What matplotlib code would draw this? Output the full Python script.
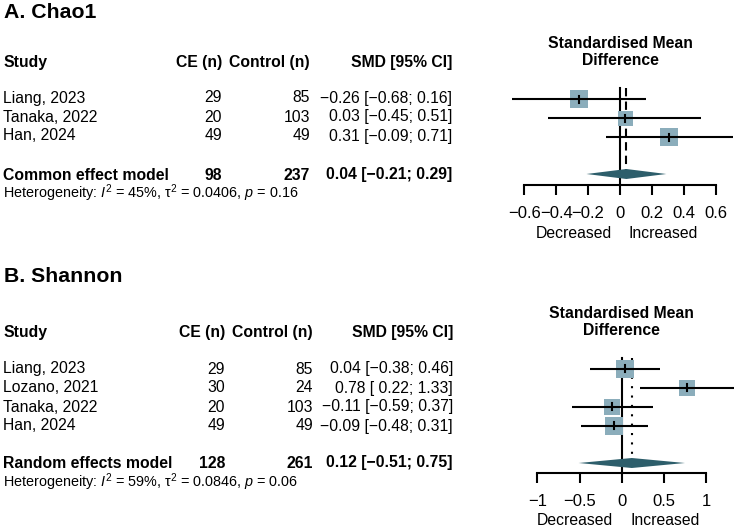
import numpy as np
import matplotlib
matplotlib.use("Agg")
import matplotlib.pyplot as plt
from matplotlib.patches import Polygon
from matplotlib.transforms import offset_copy

plt.rcParams['font.family'] = ['Liberation Sans', 'DejaVu Sans']
plt.rcParams['mathtext.fontset'] = 'custom'
plt.rcParams['mathtext.rm'] = 'Liberation Sans'
plt.rcParams['mathtext.it'] = 'Liberation Sans:italic'

# ---- data ----
chao_studies = ["Liang, 2023", "Tanaka, 2022", "Han, 2024"]
chao_ce = [29, 20, 49]
chao_ctrl = [85, 103, 49]
chao_smd = [-0.26, 0.03, 0.31]
chao_lo = [-0.68, -0.45, -0.09]
chao_hi = [0.16, 0.51, 0.71]
chao_pool = [0.04, -0.21, 0.29]
chao_model = "Common effect model"
chao_het = "Heterogeneity: $I^2$ = 45%, τ$^2$ = 0.0406, $p$ = 0.16"
chao_ticks = [-0.6, -0.4, -0.2, 0, 0.2, 0.4, 0.6]

shan_studies = ["Liang, 2023", "Lozano, 2021", "Tanaka, 2022", "Han, 2024"]
shan_ce = [29, 30, 20, 49]
shan_ctrl = [85, 24, 103, 49]
shan_smd = [0.04, 0.78, -0.11, -0.09]
shan_lo = [-0.38, 0.22, -0.59, -0.48]
shan_hi = [0.46, 1.33, 0.37, 0.31]
shan_pool = [0.12, -0.51, 0.75]
shan_tau2 = 0.0846
shan_model = "Random effects model"
shan_het = "Heterogeneity: $I^2$ = 59%, τ$^2$ = 0.0846, $p$ = 0.06"
shan_ticks = [-1, -0.5, 0, 0.5, 1]

W, H = 738, 529
fig = plt.figure(figsize=(W / 100, H / 100), dpi=100)
BOX = '#8badbb'
DIAM = '#2d5e6b'
FS = 11.3


def ftxt(x, y, s, **kw):
    fig.text(x / W, 1 - y / H, s, va='center', **kw)


def fmt(v, w=0):
    s = f"{v:{w}.2f}" if w else f"{v:.2f}"
    return s.replace('-', '\u2212')


def table(title, ty, hy, rows_y, sum_y, het_y, cols, studies, ce, ctrl, smd, lo, hi, pool, model, het):
    ftxt(4, ty, title, fontsize=15.3, fontweight='bold')
    ftxt(3, hy, "Study", fontsize=FS, fontweight='bold')
    ftxt(cols[0], hy, "CE (n)", fontsize=FS, fontweight='bold', ha='right')
    ftxt(cols[1], hy, "Control (n)", fontsize=FS, fontweight='bold', ha='right')
    ftxt(cols[2], hy, "SMD [95% CI]", fontsize=FS, fontweight='bold', ha='right')
    for i, y in enumerate(rows_y):
        ftxt(3, y, studies[i], fontsize=FS)
        ftxt(cols[0], y, str(ce[i]), fontsize=FS, ha='right')
        ftxt(cols[1], y, str(ctrl[i]), fontsize=FS, ha='right')
        ftxt(cols[2], y, f"{fmt(smd[i])} [{fmt(lo[i], 5)}; {fmt(hi[i])}]", fontsize=FS, ha='right')
    ftxt(3, sum_y, model, fontsize=FS, fontweight='bold')
    ftxt(cols[0], sum_y, str(sum(ce)), fontsize=FS, fontweight='bold', ha='right')
    ftxt(cols[1], sum_y, str(sum(ctrl)), fontsize=FS, fontweight='bold', ha='right')
    ftxt(cols[2], sum_y, f"{fmt(pool[0])} [{fmt(pool[1])}; {fmt(pool[2])}]",
         fontsize=FS, fontweight='bold', ha='right')
    ftxt(3, het_y, het, fontsize=10.4)


def forest(px0, zero_px, scale, y0, y1, title_y, rows_y, sum_y, axis_y, top_y, ref_end,
           smd, lo, hi, pool, ticks, tau2, ref_ls):
    ax = fig.add_axes([px0 / W, 1 - y1 / H, (W - px0) / W, (y1 - y0) / H])
    ax.set_xlim((px0 - zero_px) / scale, (W - zero_px) / scale)
    ax.set_ylim(y1, y0)
    # box sizes from inverse-variance weights
    se = (np.array(hi) - np.array(lo)) / 3.92
    w = 1 / (se ** 2 + tau2)
    side = 18 * np.sqrt(w / w.max())
    ax.plot([0, 0], [top_y, axis_y], color='black', lw=1.5, zorder=1)
    ax.plot([pool[0], pool[0]], [top_y, ref_end], color='black', lw=1.5, ls=ref_ls, zorder=1)
    for i, y in enumerate(rows_y):
        ax.plot(smd[i], y, marker='s', ms=side[i] * 0.72, color=BOX, mew=0, zorder=2)
        ax.plot([lo[i], hi[i]], [y, y], color='black', lw=1.5, zorder=3, solid_capstyle='butt')
        ax.plot([smd[i], smd[i]], [y - 3.5, y + 3.5], color='black', lw=1.5, zorder=4)
    ax.add_patch(Polygon([(pool[1], sum_y), (pool[0], sum_y - 5), (pool[2], sum_y), (pool[0], sum_y + 5)],
                         closed=True, color=DIAM, lw=0, zorder=5))
    for s in ['top', 'left', 'right']:
        ax.spines[s].set_visible(False)
    ax.spines['bottom'].set_position(('data', axis_y))
    ax.spines['bottom'].set_bounds(ticks[0], ticks[-1])
    ax.spines['bottom'].set_linewidth(1.5)
    ax.set_yticks([])
    ax.set_xticks(ticks)
    ax.set_xticklabels([('0' if t == 0 else f"{t:g}".replace('-', '\u2212')) for t in ticks])
    ax.tick_params(axis='x', direction='out', length=7.5, width=1.5, pad=7.5, labelsize=12)
    ax.patch.set_alpha(0)
    ax.text(0, title_y, "Standardised Mean\nDifference", ha='center', va='center',
            fontsize=FS, fontweight='bold', linespacing=1.15)
    lab_y = axis_y + 48
    ax.text(0, lab_y, "Decreased", ha='right', va='center', fontsize=FS,
            transform=offset_copy(ax.transData, fig=fig, x=-6, units='points'))
    ax.text(0, lab_y, "Increased", ha='left', va='center', fontsize=FS,
            transform=offset_copy(ax.transData, fig=fig, x=6, units='points'))
    return ax


table("A. Chao1", 13, 62, [98, 117, 136], 175, 193, [222, 310, 452],
      chao_studies, chao_ce, chao_ctrl, chao_smd, chao_lo, chao_hi, chao_pool, chao_model, chao_het)
table("B. Shannon", 277, 332, [369, 388, 407, 426], 463, 482, [225, 313, 453],
      shan_studies, shan_ce, shan_ctrl, shan_smd, shan_lo, shan_hi, shan_pool, shan_model, shan_het)

forest(470, 620, 159.5, 20, 250, 52, [99, 118, 137], 174, 185, 88, 170,
       chao_smd, chao_lo, chao_hi, chao_pool, chao_ticks, 0.0, (0, (4, 2.5)))
forest(470, 621.7, 84.3, 290, 529, 322, [369, 388, 407, 426], 463, 473, 358, 456,
       shan_smd, shan_lo, shan_hi, shan_pool, shan_ticks, shan_tau2, (0, (1, 3.5)))

fig.savefig("out.png", dpi=100)
